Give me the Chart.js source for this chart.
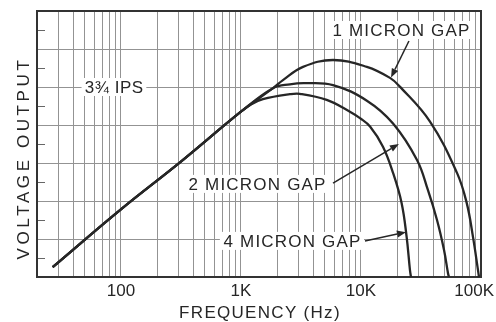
<!DOCTYPE html>
<html><head><meta charset="utf-8">
<script src="https://cdn.jsdelivr.net/npm/chart.js@4.4.0/dist/chart.umd.min.js"></script>
<style>html,body{margin:0;padding:0;background:#fff}#wrap{width:496px;height:322px;position:relative}</style>
</head><body><div id="wrap"><canvas id="c"></canvas></div>
<script>
// ---- data ----
const seriesNames = ['1 MICRON GAP', '2 MICRON GAP', '4 MICRON GAP'];
const gap1Freq = [27, 100, 320, 1000, 1850, 2240, 3290, 5850, 11200, 17450, 21100, 37600, 63100, 76000, 85800, 94400, 96200];
const gap1Volt = [0.26, 1.78, 3.05, 4.35, 4.97, 5.18, 5.53, 5.71, 5.53, 5.24, 5.01, 4.09, 2.74, 1.95, 1.05, 0.18, 0];
const gap2Freq = [27, 100, 320, 1000, 1850, 2560, 3410, 5850, 11200, 18500, 29300, 36100, 43000, 49200, 53100, 54100];
const gap2Volt = [0.26, 1.78, 3.05, 4.35, 4.97, 5.07, 5.10, 5.05, 4.64, 4.04, 3.08, 2.29, 1.5, 0.71, 0.1, 0];
const gap4Freq = [27, 100, 320, 1000, 1230, 1525, 2560, 3100, 5180, 8090, 9810, 11900, 15250, 18500, 21800, 24000, 25600, 26100];
const gap4Volt = [0.26, 1.78, 3.05, 4.35, 4.55, 4.68, 4.81, 4.82, 4.66, 4.35, 4.18, 3.96, 3.43, 2.74, 1.95, 1.06, 0.18, 0];

const xTickValues = [100, 1000, 10000, 100000];
const xTickLabels = ['100', '1K', '10K', '100K'];
const xTitle = 'FREQUENCY (Hz)';
const yTitle = 'VOLTAGE OUTPUT';
const speedLabel = '3¾ IPS';
const xMin = 20, xMax = 100000, yMin = 0, yMax = 7;
const minorY = [0.5, 1.5, 2.5, 3.5, 4.5, 5.5, 6.5];

// annotation anchors, in data units (frequency, voltage)
const labelFreq = [21500, 1360, 2660];
const labelVolt = [6.5, 2.45, 0.95];
const arrowFromFreq = [25100, 5850, 10800];
const arrowFromVolt = [6.21, 2.47, 0.95];
const arrowToFreq = [17800, 20700, 23700];
const arrowToVolt = [5.25, 3.5, 1.18];
const speedFreq = 87.5, speedVolt = 5.0;

// ---- chart ----
const gridFreqs = [];
for (let d = 10; d <= 10000; d *= 10) for (let m = 1; m <= 9; m++) { const f = m * d; if (f >= xMin && f <= xMax) gridFreqs.push(f); }
gridFreqs.push(xMax);

const INK = '#262626';
const FONT = '"Liberation Sans", Arial, sans-serif';

function pts(fr, vo) { return fr.map((f, i) => ({ x: f, y: vo[i] })); }

function textBox(ctx, txt, cx, cy, ls) {
  ctx.save();
  ctx.font = '17px ' + FONT;
  try { ctx.letterSpacing = ls + 'px'; } catch (e) {}
  const w = ctx.measureText(txt).width;
  ctx.fillStyle = '#fff';
  ctx.fillRect(cx - w / 2 - 3, cy - 9, w + 6, 18);
  ctx.fillStyle = INK;
  ctx.textAlign = 'center';
  ctx.textBaseline = 'middle';
  ctx.fillText(txt, cx + ls / 2, cy + 1);
  ctx.restore();
}

const decor = {
  id: 'decor',
  beforeDatasetsDraw(chart) {
    const { ctx, chartArea: a, scales: { x, y } } = chart;
    ctx.save();
    ctx.strokeStyle = '#666'; ctx.lineWidth = 1;
    minorY.forEach(v => {
      const py = Math.round(y.getPixelForValue(v)) + 0.5;
      ctx.beginPath(); ctx.moveTo(a.left, py); ctx.lineTo(a.left + 8, py); ctx.stroke();
    });
    ctx.strokeStyle = '#333'; ctx.lineWidth = 2;
    ctx.strokeRect(a.left, a.top, a.right - a.left, a.bottom - a.top);
    ctx.restore();
    textBox(ctx, speedLabel, x.getPixelForValue(speedFreq), y.getPixelForValue(speedVolt), 0.5);
    seriesNames.forEach((n, i) => {
      textBox(ctx, n, x.getPixelForValue(labelFreq[i]), y.getPixelForValue(labelVolt[i]), 1.2);
    });
  },
  afterDatasetsDraw(chart) {
    const { ctx, chartArea: a, scales: { x, y } } = chart;
    ctx.save();
    ctx.strokeStyle = INK; ctx.fillStyle = INK; ctx.lineWidth = 1.5;
    seriesNames.forEach((n, i) => {
      const x1 = x.getPixelForValue(arrowFromFreq[i]), y1 = y.getPixelForValue(arrowFromVolt[i]);
      const x2 = x.getPixelForValue(arrowToFreq[i]), y2 = y.getPixelForValue(arrowToVolt[i]);
      const ang = Math.atan2(y2 - y1, x2 - x1);
      const L = 9, H = 3.5;
      const bx = x2 - L * Math.cos(ang), by = y2 - L * Math.sin(ang);
      ctx.beginPath(); ctx.moveTo(x1, y1); ctx.lineTo(bx, by); ctx.stroke();
      ctx.beginPath();
      ctx.moveTo(x2, y2);
      ctx.lineTo(bx + H * Math.sin(ang), by - H * Math.cos(ang));
      ctx.lineTo(bx - H * Math.sin(ang), by + H * Math.cos(ang));
      ctx.closePath(); ctx.fill();
    });
    ctx.font = '17px ' + FONT;
    ctx.textAlign = 'center'; ctx.textBaseline = 'middle';
    xTickValues.forEach((v, i) => {
      const w = ctx.measureText(xTickLabels[i]).width;
      const px = Math.min(x.getPixelForValue(v), chart.width - w / 2 - 2);
      ctx.fillText(xTickLabels[i], px, a.bottom + 14);
    });
    try { ctx.letterSpacing = '1.3px'; } catch (e) {}
    ctx.fillText(xTitle, (a.left + a.right) / 2 + 1, a.bottom + 36);
    try { ctx.letterSpacing = '3.6px'; } catch (e) {}
    ctx.translate(24, (a.top + a.bottom) / 2 + 14);
    ctx.rotate(-Math.PI / 2);
    ctx.fillText(yTitle, 0, 0);
    ctx.restore();
  }
};

const mk = (fr, vo, label) => ({
  label, data: pts(fr, vo), borderColor: INK, borderWidth: 2.3, pointRadius: 0,
  tension: 0.4, fill: false, clip: 3
});

new Chart(document.getElementById('c'), {
  type: 'line',
  data: { datasets: [mk(gap1Freq, gap1Volt, seriesNames[0]), mk(gap2Freq, gap2Volt, seriesNames[1]), mk(gap4Freq, gap4Volt, seriesNames[2])] },
  options: {
    responsive: true, maintainAspectRatio: false, animation: false,
    layout: { padding: { left: 37, top: 11, right: 15, bottom: 45 } },
    plugins: { legend: { display: false }, tooltip: { enabled: false } },
    scales: {
      x: {
        type: 'logarithmic', min: xMin, max: xMax,
        afterBuildTicks: s => { s.ticks = gridFreqs.map(v => ({ value: v })); },
        ticks: { display: false },
        grid: { color: '#939393', lineWidth: 1, drawTicks: false },
        border: { display: false }
      },
      y: {
        type: 'linear', min: yMin, max: yMax,
        ticks: { display: false, stepSize: 1 },
        grid: { color: '#939393', lineWidth: 1, drawTicks: false },
        border: { display: false }
      }
    }
  },
  plugins: [decor]
});
</script>
</body></html>
